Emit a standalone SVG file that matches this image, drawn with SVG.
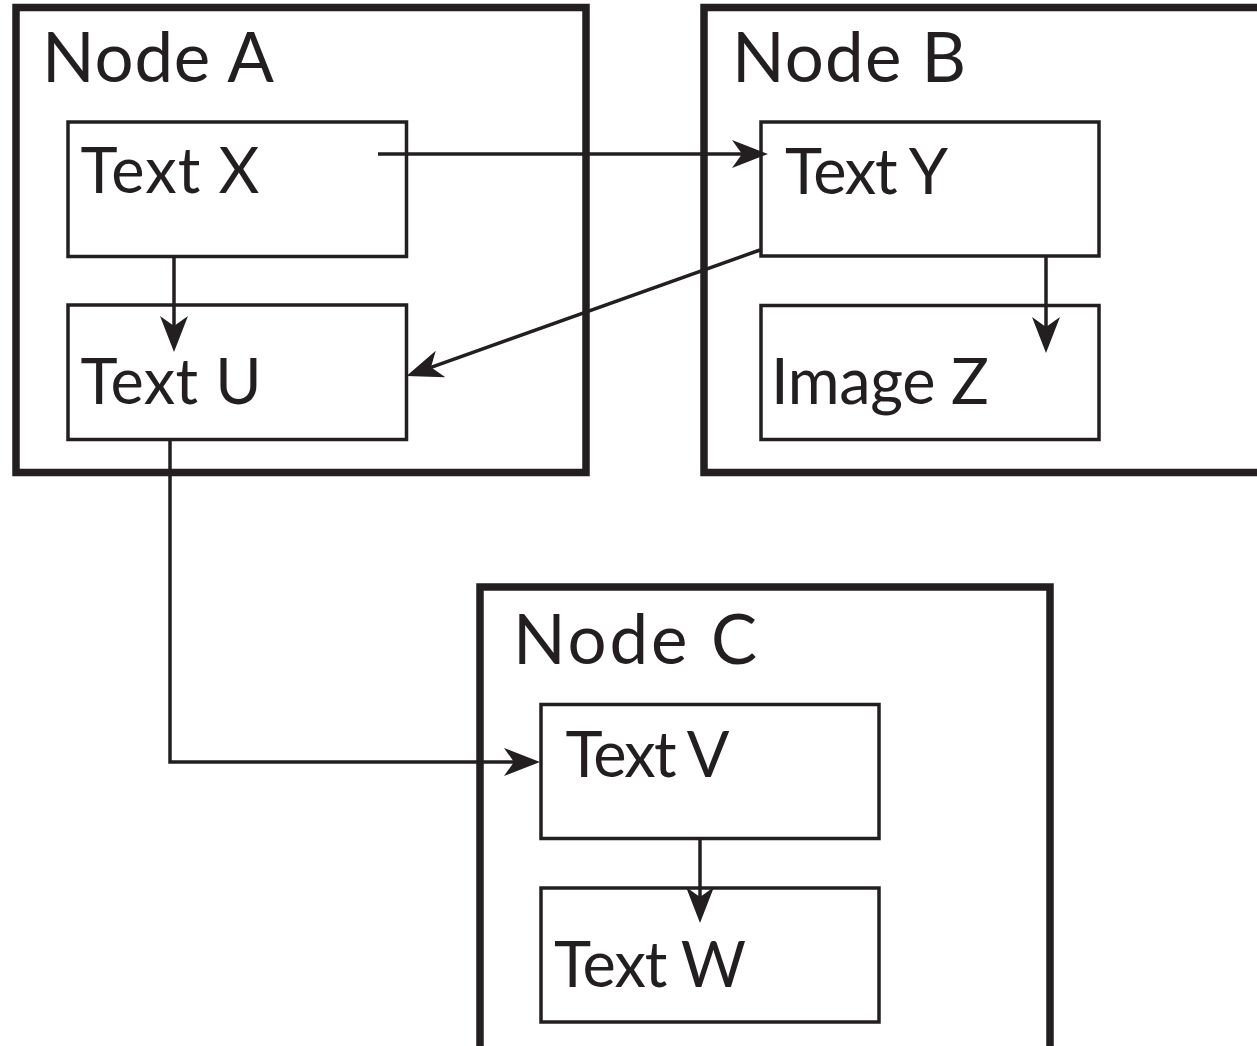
<svg xmlns="http://www.w3.org/2000/svg" width="1257" height="1046" viewBox="0 0 1257 1046">
  <style>
    .outer { fill: none; stroke: #231f20; stroke-width: 7.5; }
    .inner { fill: #ffffff; stroke: #231f20; stroke-width: 3.5; }
    .title { font-family: Lato, "Open Sans", sans-serif; font-size: 69px; fill: #231f20; }
    .label { font-family: Lato, "Open Sans", sans-serif; font-size: 63px; fill: #231f20; }
    .conn { fill: none; stroke: #231f20; stroke-width: 3.5; marker-end: url(#arrow); }
  </style>
  <defs>
    <marker id="arrow" markerUnits="userSpaceOnUse" viewBox="0 -15 40 30" markerWidth="40" markerHeight="30" refX="10" refY="0" orient="auto">
      <path d="M36,0 L0,-14 L10,0 L0,14 Z" fill="#231f20"/>
    </marker>
  </defs>
  <rect x="0" y="0" width="1257" height="1046" fill="#ffffff"/>

  <g id="nodeA">
    <rect class="outer" x="16" y="7.5" width="570" height="465"/>
    <text class="title" x="42" y="82" textLength="232">Node A</text>
    <g id="textX">
      <rect class="inner" x="68" y="122" width="338.5" height="134.5"/>
      <text class="label" x="80.5" y="193" textLength="179">Text X</text>
    </g>
    <g id="textU">
      <rect class="inner" x="68" y="305" width="338.5" height="134.5"/>
      <text class="label" x="80.5" y="404" textLength="181">Text U</text>
    </g>
  </g>

  <g id="nodeB">
    <rect class="outer" x="704" y="7.5" width="600" height="465"/>
    <text class="title" x="732" y="82" textLength="234">Node B</text>
    <g id="textY">
      <rect class="inner" x="761" y="122" width="338" height="134"/>
      <text class="label" x="785" y="194" textLength="163">Text Y</text>
    </g>
    <g id="imageZ">
      <rect class="inner" x="761" y="305.5" width="338" height="134"/>
      <text class="label" x="771" y="404" textLength="218">Image Z</text>
    </g>
  </g>

  <g id="nodeC">
    <rect class="outer" x="480" y="587" width="570" height="600"/>
    <text class="title" x="513" y="664" textLength="244">Node C</text>
    <g id="textV">
      <rect class="inner" x="541" y="704.5" width="338" height="134"/>
      <text class="label" x="565.5" y="777" textLength="164">Text V</text>
    </g>
    <g id="textW">
      <rect class="inner" x="541" y="888" width="338" height="134"/>
      <text class="label" x="554" y="987" textLength="192">Text W</text>
    </g>
  </g>

  <g id="connectors">
    <path class="conn" d="M378,154 L742,154"/>
    <path class="conn" d="M174,256.5 L174,326"/>
    <path class="conn" d="M760,250 L431,367.3"/>
    <path class="conn" d="M1046,256 L1046,327"/>
    <path class="conn" d="M170,439.5 L170,762 L514,762"/>
    <path class="conn" d="M700,838.5 L700,897"/>
  </g>
</svg>
